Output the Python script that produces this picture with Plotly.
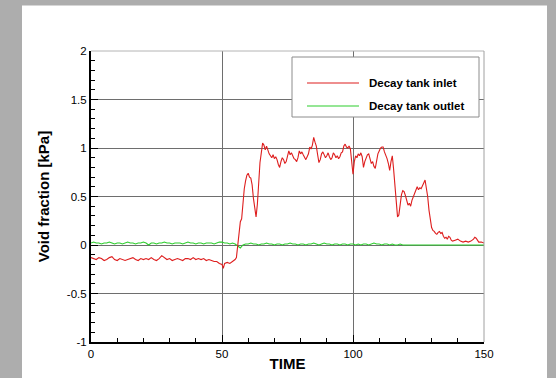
import plotly.graph_objects as go

# ---------------- data ----------------
red_time = [0, 1, 2, 3, 4, 5, 6, 7, 8, 9, 10, 11, 12, 13, 14, 15, 16, 17, 18, 19,
            20, 21, 22, 23, 24, 25, 26, 27, 28, 29, 30, 31, 32, 33, 34, 35, 36, 37, 38, 39,
            40, 41, 42, 43, 44, 45, 46, 47, 48, 49, 50, 50.5, 51, 52, 53, 54, 55, 55.5,
            56, 56.5, 57, 57.5, 58, 58.5, 59, 59.5, 60, 60.5, 61, 61.5, 62, 62.5, 63, 63.5,
            64, 64.5, 65, 65.5, 66, 66.5, 67, 67.5, 68, 68.5, 69, 69.5, 70, 70.5, 71, 71.5,
            72, 72.5, 73, 73.5, 74, 74.5, 75, 75.5, 76, 76.5, 77, 77.5, 78, 78.5, 79, 79.5,
            80, 80.5, 81, 81.5, 82, 82.5, 83, 83.5, 84, 84.5, 85, 85.5, 86, 86.5, 87, 87.5,
            88, 88.5, 89, 89.5, 90, 90.5, 91, 91.5, 92, 92.5, 93, 93.5, 94, 94.5, 95, 95.5,
            96, 96.5, 97, 97.5, 98, 98.5, 99, 99.5, 100, 100.5, 101, 101.5, 102, 102.5, 103, 103.5,
            104, 104.5, 105, 105.5, 106, 106.5, 107, 107.5, 108, 108.5, 109, 109.5, 110, 110.5, 111, 111.5,
            112, 112.5, 113, 113.5, 114, 114.5, 115, 115.5, 116, 116.5, 117, 117.5, 118, 118.5, 119, 119.5,
            120, 120.5, 121, 121.5, 122, 122.5, 123, 123.5, 124, 124.5, 125, 125.5, 126, 126.5, 127, 127.5,
            128, 128.5, 129, 129.5, 130, 130.5, 131, 131.5, 132, 132.5, 133, 133.5, 134, 134.5, 135, 135.5,
            136, 136.5, 137, 137.5, 138, 139, 140, 141, 142, 143, 144, 145, 146, 146.5, 147, 148, 149, 150]
red_void = [-0.13, -0.14, -0.15, -0.13, -0.14, -0.16, -0.15, -0.13, -0.12, -0.15, -0.16, -0.14, -0.15, -0.16, -0.15, -0.14, -0.13, -0.15, -0.16, -0.14,
            -0.15, -0.14, -0.15, -0.13, -0.15, -0.16, -0.14, -0.11, -0.13, -0.15, -0.14, -0.16, -0.15, -0.14, -0.15, -0.16, -0.14, -0.14, -0.15, -0.13,
            -0.15, -0.14, -0.15, -0.14, -0.16, -0.15, -0.16, -0.17, -0.17, -0.19, -0.20, -0.24, -0.19, -0.18, -0.19, -0.17, -0.15, -0.13,
            0.02, 0.15, 0.24, 0.27, 0.45, 0.58, 0.66, 0.72, 0.74, 0.70, 0.69, 0.62, 0.48, 0.40, 0.29, 0.42,
            0.72, 0.85, 0.95, 1.05, 1.03, 0.98, 1.02, 0.97, 0.94, 0.92, 0.90, 0.93, 0.89, 0.91, 0.88, 0.83,
            0.80, 0.86, 0.90, 0.88, 0.84, 0.86, 0.92, 0.97, 0.93, 0.95, 0.92, 0.89, 0.88, 0.86, 0.90, 0.97,
            0.94, 0.96, 0.93, 0.90, 0.88, 0.91, 0.94, 1.01, 0.99, 1.03, 1.11, 1.06, 1.02, 0.93, 0.85, 0.88,
            0.94, 0.96, 0.93, 0.90, 0.92, 0.95, 0.91, 0.88, 0.90, 0.95, 0.93, 0.90, 0.92, 0.89, 0.91, 0.95,
            0.96, 1.02, 1.04, 1.01, 1.00, 1.02, 0.99, 0.88, 0.73, 0.86, 0.92, 0.90, 0.94, 0.92, 0.95, 0.91,
            0.80, 0.86, 0.90, 0.93, 0.94, 0.90, 0.84, 0.86, 0.81, 0.79, 0.88, 0.94, 0.97, 1.00, 1.01, 1.01,
            0.96, 0.93, 0.89, 0.84, 0.77, 0.86, 0.92, 0.78, 0.58, 0.40, 0.29, 0.31, 0.42, 0.52, 0.56, 0.55,
            0.51, 0.45, 0.41, 0.43, 0.40, 0.46, 0.50, 0.52, 0.58, 0.60, 0.57, 0.59, 0.58, 0.62, 0.64, 0.67,
            0.60, 0.50, 0.36, 0.25, 0.18, 0.15, 0.14, 0.12, 0.11, 0.13, 0.14, 0.12, 0.13, 0.09, 0.07, 0.08,
            0.06, 0.09, 0.08, 0.05, 0.04, 0.05, 0.06, 0.04, 0.03, 0.04, 0.03, 0.04, 0.06, 0.08, 0.07, 0.03, 0.03, 0.02]

green_time = list(range(0, 120)) + [120, 135, 150]
green_void = [0.02, 0.03, 0.02, 0.02, 0.01, 0.02, 0.02, 0.03, 0.02, 0.01,
              0.02, 0.02, 0.01, 0.02, 0.03, 0.02, 0.02, 0.01, 0.02, 0.02,
              0.03, 0.02, 0.00, 0.02, 0.02, 0.01, 0.02, 0.02, 0.03, 0.02,
              0.02, 0.01, 0.02, 0.02, 0.02, 0.01, 0.02, 0.03, 0.02, 0.02,
              0.01, 0.02, 0.02, 0.01, 0.02, 0.02, 0.02, 0.01, 0.02, 0.03,
              0.03, 0.02, 0.02, 0.01, 0.02, 0.01, -0.01, -0.03, 0.00, 0.01,
              0.01, 0.02, 0.01, 0.01, 0.00, 0.01, 0.01, 0.02, 0.01, 0.01,
              0.00, 0.01, 0.01, 0.00, 0.01, 0.01, 0.02, 0.01, 0.01, 0.00,
              0.01, 0.01, 0.00, 0.01, 0.01, 0.02, 0.01, 0.00, 0.01, 0.02,
              0.01, 0.01, 0.00, 0.01, 0.01, 0.00, 0.01, 0.01, 0.00, 0.01,
              0.01, 0.00, 0.01, 0.00, 0.01, 0.01, 0.00, 0.01, 0.02, 0.01,
              0.01, 0.00, 0.01, 0.01, 0.00, 0.01, 0.00, 0.00, 0.01, 0.00,
              0.00, 0.00, 0.00]

series_names = ["Decay tank inlet", "Decay tank outlet"]
x_tick_vals = [0, 50, 100, 150]
x_tick_text = ["0", "50", "100", "150"]
y_tick_vals = [-1, -0.5, 0, 0.5, 1, 1.5, 2]
y_tick_text = ["-1", "-0.5", "0", "0.5", "1", "1.5", "2"]

# ---------------- styles ----------------
RED = "rgb(222,30,30)"
GREEN = "rgb(45,205,45)"
FONT = "Liberation Sans, Arial, Helvetica, sans-serif"

fig = go.Figure()
fig.add_trace(go.Scatter(x=green_time, y=green_void, mode="lines", name=series_names[1],
                         line=dict(color=GREEN, width=1.1), showlegend=False))
fig.add_trace(go.Scatter(x=red_time, y=red_void, mode="lines", name=series_names[0],
                         line=dict(color=RED, width=1.1), showlegend=False))

W, H = 556, 378
ml, mr, mt, mb = 91, 72, 51, 36
pw, ph = W - ml - mr, H - mt - mb


def px(x):
    return (x - ml) / pw


def py(y):
    return (H - mb - y) / ph


shapes = [
    # white panel behind the chart
    dict(type="rect", xref="paper", yref="paper", x0=px(22), x1=px(547), y0=py(390), y1=py(5.5),
         fillcolor="white", line=dict(width=0), layer="below"),
    # top / right frame
    dict(type="line", xref="paper", yref="paper", x0=0, x1=1, y0=1, y1=1,
         line=dict(color="#b4b4b4", width=1)),
    dict(type="line", xref="paper", yref="paper", x0=1, x1=1, y0=0, y1=1,
         line=dict(color="#a0a0a0", width=1)),
    # legend box
    dict(type="rect", xref="paper", yref="paper", x0=px(292), x1=px(479), y0=py(117), y1=py(57),
         fillcolor="white", line=dict(color="#8c8c8c", width=1), layer="above"),
    dict(type="line", xref="paper", yref="paper", x0=px(307), x1=px(359), y0=py(83), y1=py(83),
         line=dict(color=RED, width=1.1)),
    dict(type="line", xref="paper", yref="paper", x0=px(307), x1=px(359), y0=py(106), y1=py(106),
         line=dict(color=GREEN, width=1.1)),
]

annotations = [
    dict(xref="paper", yref="paper", x=px(367), y=py(83), text="<b>" + series_names[0] + "</b>",
         showarrow=False, xanchor="left", yanchor="middle", font=dict(size=11.5, family=FONT, color="black")),
    dict(xref="paper", yref="paper", x=px(367), y=py(106), text="<b>" + series_names[1] + "</b>",
         showarrow=False, xanchor="left", yanchor="middle", font=dict(size=11.5, family=FONT, color="black")),
]

fig.update_layout(
    width=W, height=H,
    margin=dict(l=ml, r=mr, t=mt, b=mb, pad=0, autoexpand=False),
    paper_bgcolor="#adadad",
    plot_bgcolor="white",
    showlegend=False,
    font=dict(family=FONT, color="black", size=11),
    shapes=shapes,
    annotations=annotations,
)

fig.update_xaxes(
    range=[0, 150], tickmode="array", tickvals=x_tick_vals, ticktext=x_tick_text,
    ticks="inside", ticklen=7, tickwidth=1.2, tickcolor="black",
    showline=True, linecolor="black", linewidth=2,
    showgrid=True, gridcolor="#6e6e6e", gridwidth=1, zeroline=False,
    minor=dict(tickmode="linear", tick0=0, dtick=10, ticks="inside", ticklen=4, tickcolor="black", showgrid=False),
    tickfont=dict(size=11.5, family=FONT, color="black"),
    automargin=False,
    title=dict(text="<b>TIME</b>", font=dict(size=15, family=FONT, color="black"), standoff=0),
)
fig.update_yaxes(
    range=[-1, 2], tickmode="array", tickvals=y_tick_vals, ticktext=y_tick_text,
    ticks="inside", ticklen=7, tickwidth=1.2, tickcolor="black",
    showline=True, linecolor="black", linewidth=2,
    showgrid=True, gridcolor="#6e6e6e", gridwidth=1, zeroline=False,
    minor=dict(tickmode="linear", tick0=-1, dtick=0.1, ticks="inside", ticklen=4, tickcolor="black", showgrid=False),
    tickfont=dict(size=11.5, family=FONT, color="black"),
    automargin=False,
    title=dict(text="<b>Void fraction [kPa]</b>", font=dict(size=15, family=FONT, color="black"), standoff=14),
)

fig.write_html("out.html")
